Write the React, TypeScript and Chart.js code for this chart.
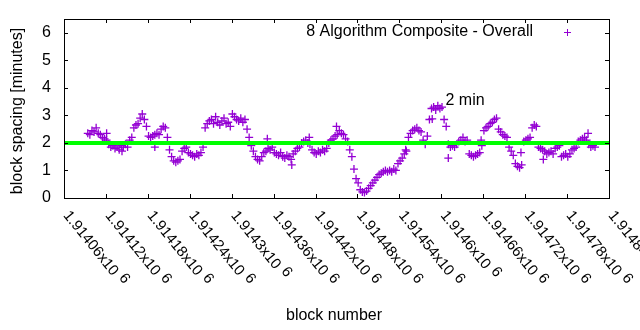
import { useEffect, useRef } from 'react';
import { Chart, registerables } from 'chart.js';

Chart.register(...registerables);

// ---- data ----
const startBlock = 1914094;
const blockStep = 3;
const spacingValues = [
  2.35, 2.3, 2.45, 2.4, 2.55, 2.35, 2.3,
  2.2, 2.15, 2.1,
  1.95, 1.85, 1.9, 1.8, 1.85, 1.75, 1.9, 1.85, 1.95, 1.85,
  2.1, 2.2,
  2.55, 2.65, 2.7, 2.9,
  3.05,
  2.85, 2.6,
  2.25,
  2.2, 2.25, 2.3, 2.35, 2.3,
  2.5, 2.6, 2.55,
  2.2,
  1.75, 1.5, 1.35, 1.3, 1.35, 1.4,
  1.7, 1.8, 1.85,
  1.65, 1.6, 1.55, 1.5, 1.6, 1.55, 1.65,
  1.85,
  2.55, 2.7, 2.8,
  2.85, 2.7, 2.95, 2.75, 2.65, 2.8, 2.9,
  2.7, 2.75, 2.6,
  3.05,
  2.95, 2.85, 2.8, 2.9, 2.75, 2.85,
  2.5, 2.2,
  1.9, 1.7,
  1.5, 1.4, 1.35,
  1.5, 1.65, 1.7,
  1.8, 1.75, 1.85,
  1.65, 1.6, 1.55, 1.65, 1.5,
  1.45, 1.55, 1.5, 1.4, 1.6,
  1.7, 1.8, 1.85,
  2.0, 2.05, 2.1, 2.0, 1.95,
  1.75, 1.65, 1.6, 1.7, 1.65,
  1.75, 1.7, 1.8,
  2.0, 2.1, 2.15,
  2.25, 2.3, 2.45, 2.35, 2.3,
  2.15, 2.05,
  1.75, 1.5,
  1.05,
  0.7, 0.55,
  0.3, 0.22, 0.2, 0.25,
  0.35, 0.45, 0.55, 0.65, 0.75, 0.85,
  0.9, 0.95, 1.0, 0.95,
  1.0, 0.95, 1.05, 1.0,
  1.25, 1.35, 1.45, 1.6, 1.7,
  2.2, 2.35, 2.45,
  2.5, 2.55, 2.45, 2.4,
  2.1, 1.95,
  2.25, 2.85,
  3.25, 3.3, 3.2, 3.35, 3.25, 3.3,
  2.85, 2.6,
  1.95, 1.85, 1.9, 1.85, 1.95,
  2.05, 2.1, 2.2, 2.05, 2.1,
  1.6, 1.55, 1.5, 1.55, 1.6, 1.65,
  1.9,
  2.45, 2.55, 2.6, 2.7, 2.75, 2.85, 2.9,
  2.5, 2.4, 2.3, 2.25, 2.2,
  1.85, 1.7, 1.55,
  1.25, 1.15, 1.1, 1.2,
  2.05, 2.1, 2.15, 2.2,
  2.55, 2.65, 2.6,
  1.85, 1.8, 1.75,
  1.7, 1.6, 1.65, 1.7, 1.6,
  1.8, 1.85, 1.9,
  1.5, 1.55, 1.6, 1.5, 1.6,
  1.75, 1.8, 1.85,
  2.05, 2.1, 2.15, 2.2, 2.1,
  1.95, 1.85, 1.9, 1.85,
];
const outlierBlocks = [1914143, 1914121, 1914190, 1914351, 1914386, 1914411, 1914450, 1914549, 1914587, 1914610, 1914657, 1914714, 1914746, 1914810];
const outlierValues = [1.7, 2.35, 1.85, 2.15, 1.2, 2.2, 2.6, 1.75, 2.87, 1.45, 2.1, 1.65, 1.4, 2.35];

const xTickValues = [1914060, 1914120, 1914180, 1914240, 1914300, 1914360, 1914420, 1914480, 1914540, 1914600, 1914660, 1914720, 1914780, 1914840];
const xTickLabels = ['1.91406', '1.91412', '1.91418', '1.91424', '1.9143', '1.91436', '1.91442', '1.91448', '1.91454', '1.9146', '1.91466', '1.91472', '1.91478', '1.91484'];
const yTickValues = [0, 1, 2, 3, 4, 5, 6];
const targetMinutes = 2;
const seriesLabel = '8 Algorithm Composite - Overall';
const annotationText = '2 min';
const annotationBlock = 1914606;
const annotationValue = 3.53;

const PURPLE = '#9400d3';
const GREEN = '#00ff00';
const FONT = '16px "Liberation Sans", Arial, sans-serif';
const TICK_FONT = '15px "Liberation Sans", Arial, sans-serif';
const TICK_ANGLE = (51 * Math.PI) / 180;

function drawCross(ctx: CanvasRenderingContext2D, x: number, y: number, r: number) {
  ctx.beginPath();
  ctx.moveTo(x - r, y);
  ctx.lineTo(x + r, y);
  ctx.moveTo(x, y - r);
  ctx.lineTo(x, y + r);
  ctx.stroke();
}

const framePlugin = {
  id: 'gnuplotFrame',
  afterDraw(chart: any) {
    const ctx: CanvasRenderingContext2D = chart.ctx;
    const { left, right, top, bottom } = chart.chartArea;
    const xs = chart.scales.x;
    const ys = chart.scales.y;
    ctx.save();
    ctx.strokeStyle = '#000';
    ctx.lineWidth = 1;
    ctx.strokeRect(Math.round(left) + 0.5, Math.round(top) + 0.5, Math.round(right - left), Math.round(bottom - top));
    const tl = 4;
    ctx.beginPath();
    yTickValues.forEach((v) => {
      const y = Math.round(ys.getPixelForValue(v)) + 0.5;
      ctx.moveTo(left, y); ctx.lineTo(left + tl, y);
      ctx.moveTo(right, y); ctx.lineTo(right - tl, y);
    });
    xTickValues.forEach((v) => {
      const x = Math.round(xs.getPixelForValue(v)) + 0.5;
      ctx.moveTo(x, bottom); ctx.lineTo(x, bottom - tl);
      ctx.moveTo(x, top); ctx.lineTo(x, top + tl);
    });
    ctx.stroke();

    ctx.fillStyle = '#000';
    ctx.font = FONT;
    // y tick labels
    ctx.textAlign = 'right';
    ctx.textBaseline = 'middle';
    yTickValues.forEach((v) => {
      ctx.fillText(String(v), left - 13, ys.getPixelForValue(v));
    });
    // x tick labels rotated
    ctx.font = TICK_FONT;
    xTickValues.forEach((v, i) => {
      const x = xs.getPixelForValue(v);
      ctx.save();
      ctx.translate(x + 2, bottom + 15);
      ctx.rotate(TICK_ANGLE);
      ctx.textAlign = 'left';
      ctx.textBaseline = 'middle';
      const main = xTickLabels[i] + 'x10';
      ctx.fillText(main, 0, 0);
      const w = ctx.measureText(main).width;
      ctx.fillText('6', w + 5, -4);
      ctx.restore();
    });
    ctx.font = FONT;
    // axis titles
    ctx.textAlign = 'center';
    ctx.textBaseline = 'middle';
    ctx.fillText('block number', 334, 316);
    ctx.save();
    ctx.translate(18, 111);
    ctx.rotate(-Math.PI / 2);
    ctx.fillText('block spacing [minutes]', 0, 0);
    ctx.restore();
    // legend
    ctx.textAlign = 'right';
    ctx.fillText(seriesLabel, 533, 32);
    ctx.strokeStyle = PURPLE;
    drawCross(ctx, 567.5, 32.5, 3.5);
    // annotation
    ctx.fillStyle = '#000';
    ctx.textAlign = 'left';
    ctx.fillText(annotationText, xs.getPixelForValue(annotationBlock), ys.getPixelForValue(annotationValue));
    ctx.restore();
  },
};

export default function App() {
  const ref = useRef<HTMLCanvasElement | null>(null);
  useEffect(() => {
    document.body.style.margin = '0';
    const canvas = ref.current;
    if (!canvas) return;
    const mainPoints = spacingValues.map((v, i) => ({ x: startBlock + i * blockStep, y: v }));
    const extraPoints = outlierBlocks.map((b, i) => ({ x: b, y: outlierValues[i] }));
    const chart = new Chart(canvas, {
      type: 'scatter',
      data: {
        datasets: [
          {
            type: 'line',
            label: 'target',
            data: [
              { x: xTickValues[0], y: targetMinutes },
              { x: xTickValues[xTickValues.length - 1], y: targetMinutes },
            ],
            borderColor: GREEN,
            borderWidth: 4,
            pointRadius: 0,
            order: 0,
          } as any,
          {
            label: seriesLabel,
            data: [...mainPoints, ...extraPoints],
            pointStyle: 'cross',
            pointRadius: 4,
            borderWidth: 1.3,
            borderColor: PURPLE,
            backgroundColor: PURPLE,
            order: 1,
          },
        ],
      },
      options: {
        responsive: false,
        animation: false,
        layout: { padding: { left: 64, right: 31, top: 19, bottom: 132 } },
        plugins: { legend: { display: false }, tooltip: { enabled: false } },
        scales: {
          x: { type: 'linear', min: xTickValues[0], max: xTickValues[xTickValues.length - 1], display: false },
          y: { type: 'linear', min: 0, max: 6.5, display: false },
        },
      },
      plugins: [framePlugin],
    });
    return () => chart.destroy();
  }, []);
  return <canvas ref={ref} width={640} height={330} style={{ display: 'block' }} />;
}
